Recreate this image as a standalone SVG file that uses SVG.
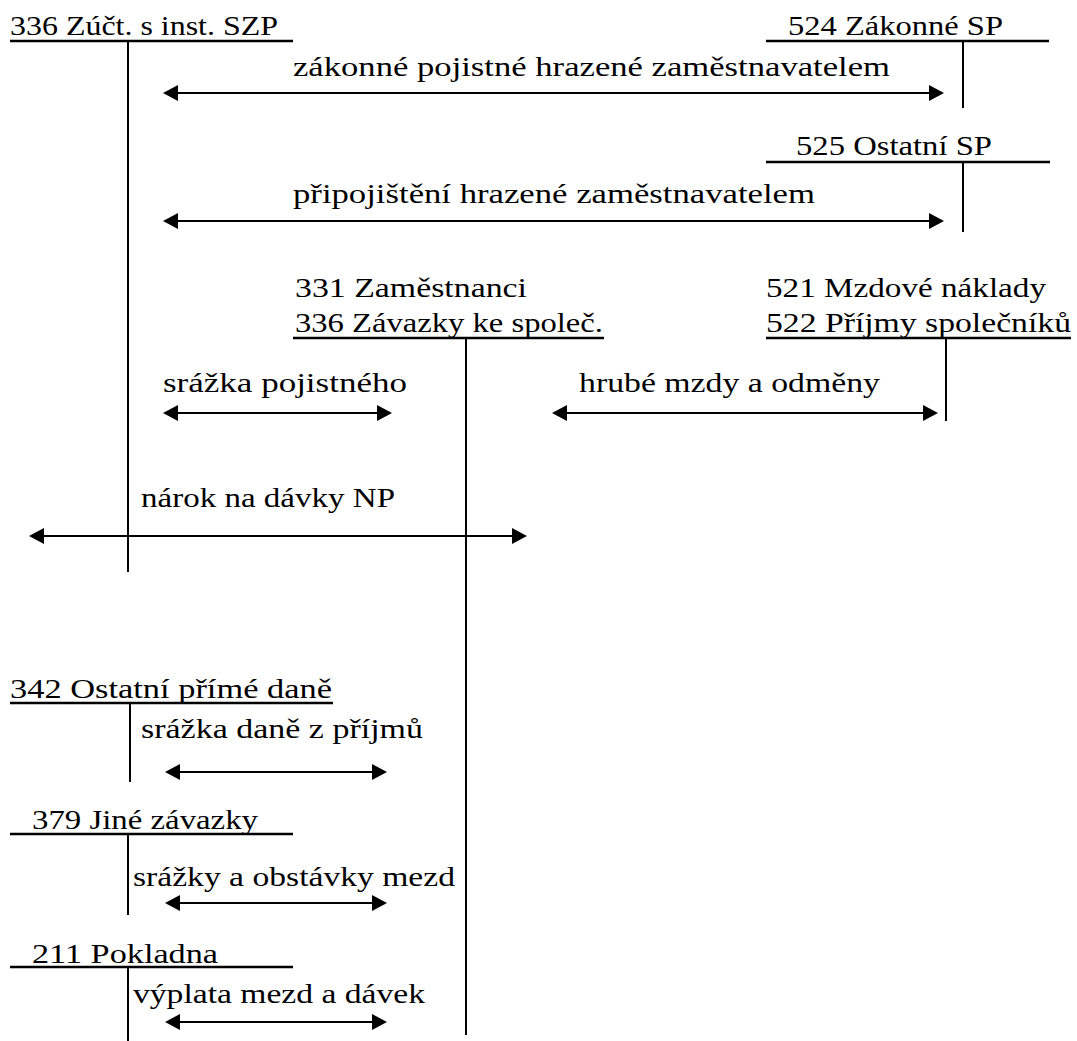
<svg xmlns="http://www.w3.org/2000/svg" width="1077" height="1041" viewBox="0 0 1077 1041">
<style>
text{font-family:"Liberation Serif","DejaVu Serif",serif;font-size:28px;fill:#000}
.u{stroke:#000;stroke-width:2.5}
.v{stroke:#000;stroke-width:2}
.a{stroke:#000;stroke-width:2;marker-start:url(#ah);marker-end:url(#ah)}
</style>
<defs>
<marker id="ah" viewBox="0 0 15 16" markerWidth="15" markerHeight="16" refX="10" refY="8" orient="auto-start-reverse" markerUnits="userSpaceOnUse">
<path d="M0,0 L15,8 L0,16 z" fill="#000"/>
</marker>
</defs>
<rect width="1077" height="1041" fill="#fff"/>

<g id="acc-336-szp">
<text x="10" y="35" textLength="268" lengthAdjust="spacingAndGlyphs">336 Zúčt. s inst. SZP</text>
<line class="u" x1="10" y1="41" x2="293" y2="41"/>
<line class="v" x1="128" y1="41" x2="128" y2="572"/>
</g>

<g id="acc-524">
<text x="788" y="35" textLength="215" lengthAdjust="spacingAndGlyphs">524 Zákonné SP</text>
<line class="u" x1="766" y1="41" x2="1049" y2="41"/>
<line class="v" x1="963" y1="41" x2="963" y2="108"/>
</g>

<g id="acc-525">
<text x="796" y="155" textLength="196" lengthAdjust="spacingAndGlyphs">525 Ostatní SP</text>
<line class="u" x1="766" y1="162" x2="1050" y2="162"/>
<line class="v" x1="963" y1="162" x2="963" y2="232"/>
</g>

<g id="acc-331-336">
<text x="295" y="297" textLength="232" lengthAdjust="spacingAndGlyphs">331 Zaměstnanci</text>
<text x="295" y="332" textLength="308" lengthAdjust="spacingAndGlyphs">336 Závazky ke společ.</text>
<line class="u" x1="293" y1="338" x2="604" y2="338"/>
<line class="v" x1="466" y1="338" x2="466" y2="1035"/>
</g>

<g id="acc-521-522">
<text x="766" y="297" textLength="280" lengthAdjust="spacingAndGlyphs">521 Mzdové náklady</text>
<text x="766" y="332" textLength="305" lengthAdjust="spacingAndGlyphs">522 Příjmy společníků</text>
<line class="u" x1="766" y1="338" x2="1071" y2="338"/>
<line class="v" x1="946" y1="338" x2="946" y2="421"/>
</g>

<g id="acc-342">
<text x="10" y="698" textLength="322" lengthAdjust="spacingAndGlyphs">342 Ostatní přímé daně</text>
<line class="u" x1="10" y1="703" x2="333" y2="703"/>
<line class="v" x1="130" y1="703" x2="130" y2="782"/>
</g>

<g id="acc-379">
<text x="32" y="829" textLength="226" lengthAdjust="spacingAndGlyphs">379 Jiné závazky</text>
<line class="u" x1="10" y1="834" x2="293" y2="834"/>
<line class="v" x1="128" y1="834" x2="128" y2="915"/>
</g>

<g id="acc-211">
<text x="32" y="963" textLength="186" lengthAdjust="spacingAndGlyphs">211 Pokladna</text>
<line class="u" x1="10" y1="967" x2="293" y2="967"/>
<line class="v" x1="128" y1="967" x2="128" y2="1041"/>
</g>

<g id="connectors">
<text x="293" y="76" textLength="597" lengthAdjust="spacingAndGlyphs">zákonné pojistné hrazené zaměstnavatelem</text>
<line class="a" x1="168" y1="93" x2="939" y2="93"/>

<text x="293" y="203" textLength="522" lengthAdjust="spacingAndGlyphs">připojištění hrazené zaměstnavatelem</text>
<line class="a" x1="168" y1="221" x2="939" y2="221"/>

<text x="163" y="392" textLength="244" lengthAdjust="spacingAndGlyphs">srážka pojistného</text>
<line class="a" x1="168" y1="413" x2="387" y2="413"/>

<text x="579" y="392" textLength="301" lengthAdjust="spacingAndGlyphs">hrubé mzdy a odměny</text>
<line class="a" x1="557" y1="413" x2="933" y2="413"/>

<text x="141" y="507" textLength="254" lengthAdjust="spacingAndGlyphs">nárok na dávky NP</text>
<line class="a" x1="34" y1="536" x2="522" y2="536"/>

<text x="141" y="738" textLength="282" lengthAdjust="spacingAndGlyphs">srážka daně z příjmů</text>
<line class="a" x1="170" y1="772" x2="382" y2="772"/>

<text x="133" y="886" textLength="322" lengthAdjust="spacingAndGlyphs">srážky a obstávky mezd</text>
<line class="a" x1="170" y1="903" x2="382" y2="903"/>

<text x="133" y="1003" textLength="292" lengthAdjust="spacingAndGlyphs">výplata mezd a dávek</text>
<line class="a" x1="170" y1="1022" x2="382" y2="1022"/>
</g>
</svg>
